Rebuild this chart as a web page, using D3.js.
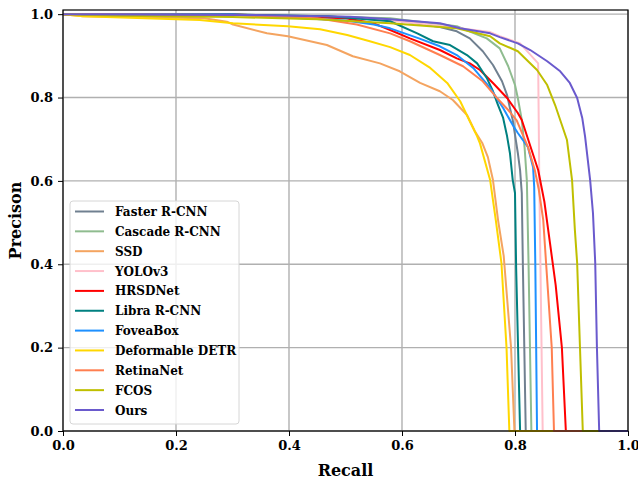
<!DOCTYPE html>
<html>
<head>
<meta charset="utf-8">
<script src="https://cdn.jsdelivr.net/npm/d3@7"></script>
<style>
  body { margin: 0; background: #fff; }
  svg text { font-family: "DejaVu Serif", serif; font-weight: bold; fill: #000; }
</style>
</head>
<body>
<figure id="pr" style="margin:0"></figure>
<script>
// precision / recall points, [recall, precision]
const fasterRcnn = [[0,1],[0.3,0.999],[0.5,0.993],[0.579,0.988],[0.667,0.969],[0.697,0.959],[0.72,0.942],[0.743,0.911],[0.761,0.878],[0.777,0.839],[0.786,0.806],[0.791,0.775],[0.796,0.746],[0.805,0.667],[0.809,0.626],[0.812,0.571],[0.814,0.393],[0.819,0],[1,0]];
const cascadeRcnn = [[0,1],[0.3,0.998],[0.5,0.993],[0.579,0.99],[0.697,0.971],[0.75,0.942],[0.773,0.918],[0.788,0.875],[0.8,0.83],[0.805,0.799],[0.812,0.746],[0.817,0.68],[0.821,0.6],[0.824,0.4],[0.829,0],[1,0]];
const ssd = [[0,1],[0.035,0.995],[0.25,0.99],[0.29,0.982],[0.301,0.975],[0.361,0.954],[0.398,0.947],[0.467,0.926],[0.513,0.899],[0.561,0.882],[0.596,0.863],[0.632,0.835],[0.667,0.815],[0.69,0.794],[0.715,0.758],[0.729,0.719],[0.742,0.691],[0.752,0.657],[0.761,0.602],[0.77,0.506],[0.78,0.42],[0.793,0.2],[0.799,0],[1,0]];
const yolov3 = [[0,1],[0.3,0.998],[0.5,0.992],[0.579,0.985],[0.667,0.972],[0.756,0.957],[0.773,0.947],[0.809,0.93],[0.841,0.882],[0.843,0.6],[0.849,0],[1,0]];
const hrsdnet = [[0,1],[0.3,0.999],[0.5,0.99],[0.55,0.978],[0.579,0.962],[0.614,0.942],[0.667,0.914],[0.697,0.894],[0.72,0.882],[0.738,0.866],[0.761,0.835],[0.786,0.799],[0.805,0.763],[0.812,0.746],[0.841,0.626],[0.852,0.55],[0.862,0.45],[0.872,0.35],[0.883,0.2],[0.89,0],[1,0]];
const libraRcnn = [[0,1],[0.3,0.999],[0.47,0.995],[0.579,0.983],[0.627,0.954],[0.655,0.935],[0.685,0.926],[0.715,0.902],[0.733,0.882],[0.75,0.847],[0.761,0.815],[0.77,0.782],[0.779,0.751],[0.786,0.707],[0.791,0.667],[0.796,0.602],[0.8,0.571],[0.802,0.393],[0.809,0],[1,0]];
const foveaBox = [[0,1],[0.3,0.999],[0.5,0.985],[0.55,0.975],[0.579,0.966],[0.63,0.942],[0.667,0.923],[0.697,0.902],[0.726,0.871],[0.756,0.823],[0.779,0.775],[0.796,0.734],[0.805,0.715],[0.823,0.681],[0.832,0.633],[0.834,0.585],[0.836,0.393],[0.839,0],[1,0]];
const deformDetr = [[0,1],[0.035,0.995],[0.242,0.986],[0.301,0.978],[0.398,0.971],[0.455,0.964],[0.503,0.95],[0.543,0.935],[0.579,0.921],[0.614,0.902],[0.65,0.871],[0.68,0.835],[0.703,0.791],[0.72,0.743],[0.733,0.707],[0.738,0.69],[0.756,0.602],[0.766,0.506],[0.776,0.403],[0.785,0.2],[0.79,0],[1,0]];
const retinaNet = [[0,1],[0.3,0.998],[0.45,0.99],[0.52,0.975],[0.579,0.954],[0.614,0.935],[0.667,0.902],[0.708,0.875],[0.743,0.839],[0.768,0.799],[0.788,0.77],[0.803,0.745],[0.823,0.681],[0.835,0.626],[0.842,0.58],[0.85,0.506],[0.855,0.403],[0.865,0.201],[0.869,0],[1,0]];
const fcos = [[0,1],[0.1,0.996],[0.3,0.993],[0.45,0.988],[0.579,0.978],[0.697,0.966],[0.756,0.947],[0.773,0.93],[0.805,0.911],[0.839,0.866],[0.857,0.83],[0.871,0.782],[0.883,0.734],[0.892,0.698],[0.901,0.602],[0.906,0.482],[0.91,0.403],[0.915,0.201],[0.92,0],[1,0]];
const ours = [[0,1],[0.33,0.998],[0.508,0.994],[0.579,0.988],[0.667,0.978],[0.703,0.966],[0.756,0.954],[0.773,0.945],[0.805,0.93],[0.827,0.914],[0.857,0.887],[0.88,0.863],[0.897,0.835],[0.91,0.799],[0.919,0.751],[0.924,0.707],[0.933,0.602],[0.938,0.523],[0.942,0.403],[0.945,0.201],[0.949,0],[1,0]];

const names = ["Faster R-CNN", "Cascade R-CNN", "SSD", "YOLOv3", "HRSDNet", "Libra R-CNN", "FoveaBox", "Deformable DETR", "RetinaNet", "FCOS", "Ours"];
const curves = [fasterRcnn, cascadeRcnn, ssd, yolov3, hrsdnet, libraRcnn, foveaBox, deformDetr, retinaNet, fcos, ours];
const colors = ["#708090", "#8fbc8f", "#f4a460", "#ffc0cb", "#ff0000", "#008080", "#1e90ff", "#ffd700", "#ff7f50", "#bfbf00", "#6a5acd"];
const ticks = [0, 0.2, 0.4, 0.6, 0.8, 1.0];

const width = 638, height = 481;
const plotLeft = 63, plotRight = 628, plotTop = 10, plotBottom = 431;

const svg = d3.select("figure#pr").append("svg")
  .attr("width", width)
  .attr("height", height);

const x = d3.scaleLinear().domain([0, 1]).range([plotLeft, plotRight]);
const y = d3.scaleLinear().domain([0, 1.01]).range([plotBottom, plotTop]);

// grid
const grid = svg.append("g");
grid.selectAll(".gx").data(ticks).enter().append("line")
  .attr("x1", d => x(d)).attr("x2", d => x(d))
  .attr("y1", plotTop).attr("y2", plotBottom)
  .attr("stroke", "#b0b0b0").attr("stroke-width", 1.4);
grid.selectAll(".gy").data(ticks).enter().append("line")
  .attr("x1", plotLeft).attr("x2", plotRight)
  .attr("y1", d => y(d)).attr("y2", d => y(d))
  .attr("stroke", "#b0b0b0").attr("stroke-width", 1.4);

// curves
const line = d3.line().x(d => x(d[0])).y(d => y(d[1]));
svg.append("g").selectAll("path").data(curves).enter().append("path")
  .attr("d", line)
  .attr("fill", "none")
  .attr("stroke", (d, i) => colors[i])
  .attr("stroke-width", 2)
  .attr("stroke-linejoin", "round");

// axes
const xAxis = svg.append("g").attr("transform", "translate(0," + plotBottom + ")")
  .call(d3.axisBottom(x).tickValues(ticks).tickFormat(d3.format(".1f")).tickSize(5).tickPadding(5));
const yAxis = svg.append("g").attr("transform", "translate(" + plotLeft + ",0)")
  .call(d3.axisLeft(y).tickValues(ticks).tickFormat(d3.format(".1f")).tickSize(5).tickPadding(5));
[xAxis, yAxis].forEach(a => {
  a.select(".domain").remove();
  a.selectAll("line").attr("stroke", "#000").attr("stroke-width", 1);
  a.selectAll("text").style("font-size", "13px").style("font-family", "DejaVu Serif").style("font-weight", "bold");
});

// frame
svg.append("rect")
  .attr("x", plotLeft).attr("y", plotTop)
  .attr("width", plotRight - plotLeft).attr("height", plotBottom - plotTop)
  .attr("fill", "none").attr("stroke", "#000").attr("stroke-width", 1.2);

// axis titles
svg.append("text").attr("x", (plotLeft + plotRight) / 2).attr("y", 476)
  .attr("text-anchor", "middle").style("font-size", "16px").text("Recall");
svg.append("text")
  .attr("transform", "translate(21," + (plotTop + plotBottom) / 2 + ") rotate(-90)")
  .attr("text-anchor", "middle").style("font-size", "16px").text("Precison");

// legend
const legend = svg.append("g");
legend.append("rect")
  .attr("x", 70).attr("y", 201).attr("width", 169).attr("height", 223)
  .attr("rx", 3)
  .attr("fill", "rgba(255,255,255,0.8)")
  .attr("stroke", "#d6d6d6").attr("stroke-width", 1);
const rows = legend.selectAll(".row").data(names).enter().append("g")
  .attr("transform", (d, i) => "translate(0," + (211.5 + i * 19.85) + ")");
rows.append("line")
  .attr("x1", 75).attr("x2", 104)
  .attr("stroke", (d, i) => colors[i]).attr("stroke-width", 2);
rows.append("text")
  .attr("x", 115).attr("y", 4.5)
  .style("font-size", "12px")
  .text(d => d);
</script>
</body>
</html>
